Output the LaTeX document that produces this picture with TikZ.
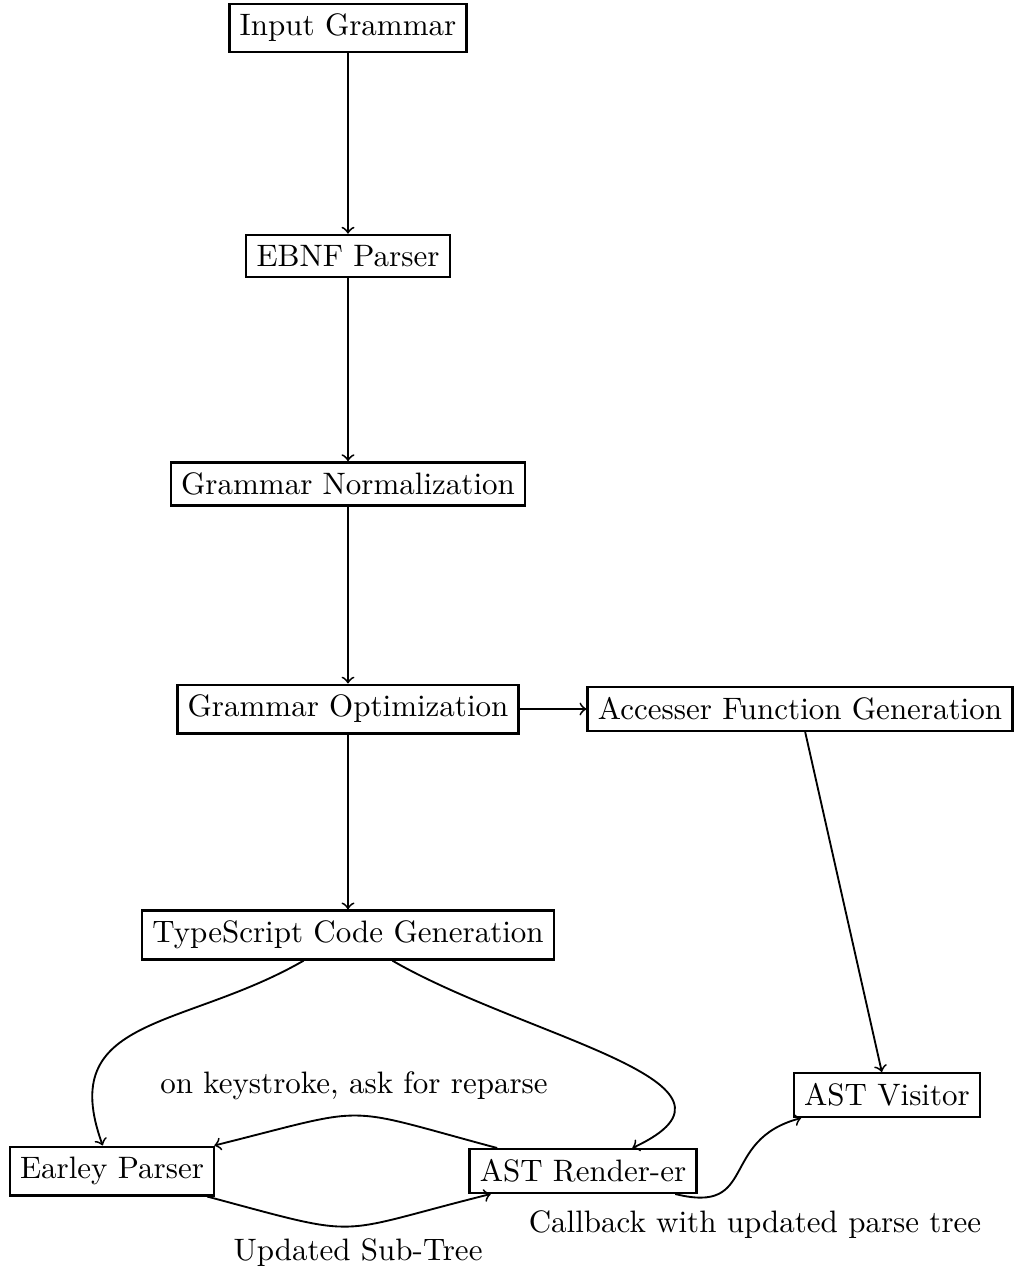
\documentclass[tikz,border=0pt]{standalone}
\usetikzlibrary{arrows}
\begin{document}
\begin{tikzpicture}[x=0.3226pt, y=0.3226pt,
  box/.style={draw, thick, rectangle, inner sep=0.333em},
  conn/.style={->, semithick},
  lbl/.style={inner sep=0pt}]
\useasboundingbox (0,0) rectangle (1015,-1274);
\node[box] (inp) at (348,-28) {Input Grammar};
\node[box] (ebnf) at (348,-256) {EBNF Parser};
\node[box] (norm) at (348,-484) {Grammar Normalization};
\node[box] (opt) at (348,-709) {Grammar Optimization};
\node[box] (acc) at (800,-709) {Accesser Function Generation};
\node[box] (ts) at (348,-935) {TypeScript Code Generation};
\node[box] (vis) at (887,-1095) {AST Visitor};
\node[box] (earley) at (112,-1171) {Earley Parser};
\node[box] (rend) at (583,-1171) {AST Render-er};
\node[lbl] (lkey) at (354,-1086) {on keystroke, ask for reparse};
\node[lbl] (lsub) at (358,-1253) {Updated Sub-Tree};
\node[lbl] (lcb) at (755,-1225) {Callback with updated parse tree};
\draw[conn] (inp) -- (ebnf);
\draw[conn] (ebnf) -- (norm);
\draw[conn] (norm) -- (opt);
\draw[conn] (opt) -- (ts);
\draw[conn] (opt) -- (acc);
\draw[conn] (acc) -- (vis);
\draw[conn] (ts) to[out=-150, in=110, looseness=1.3] (earley);
\draw[conn] (ts) to[out=-30, in=25, looseness=1.3] (rend);
\draw[conn] (rend) to[out=165, in=14, looseness=1.5] (earley);
\draw[conn] (earley) to[out=-15, in=194, looseness=1.5] (rend);
\draw[conn] (rend) to[out=-14, in=195, looseness=1.5] (vis);
\end{tikzpicture}
\end{document}
